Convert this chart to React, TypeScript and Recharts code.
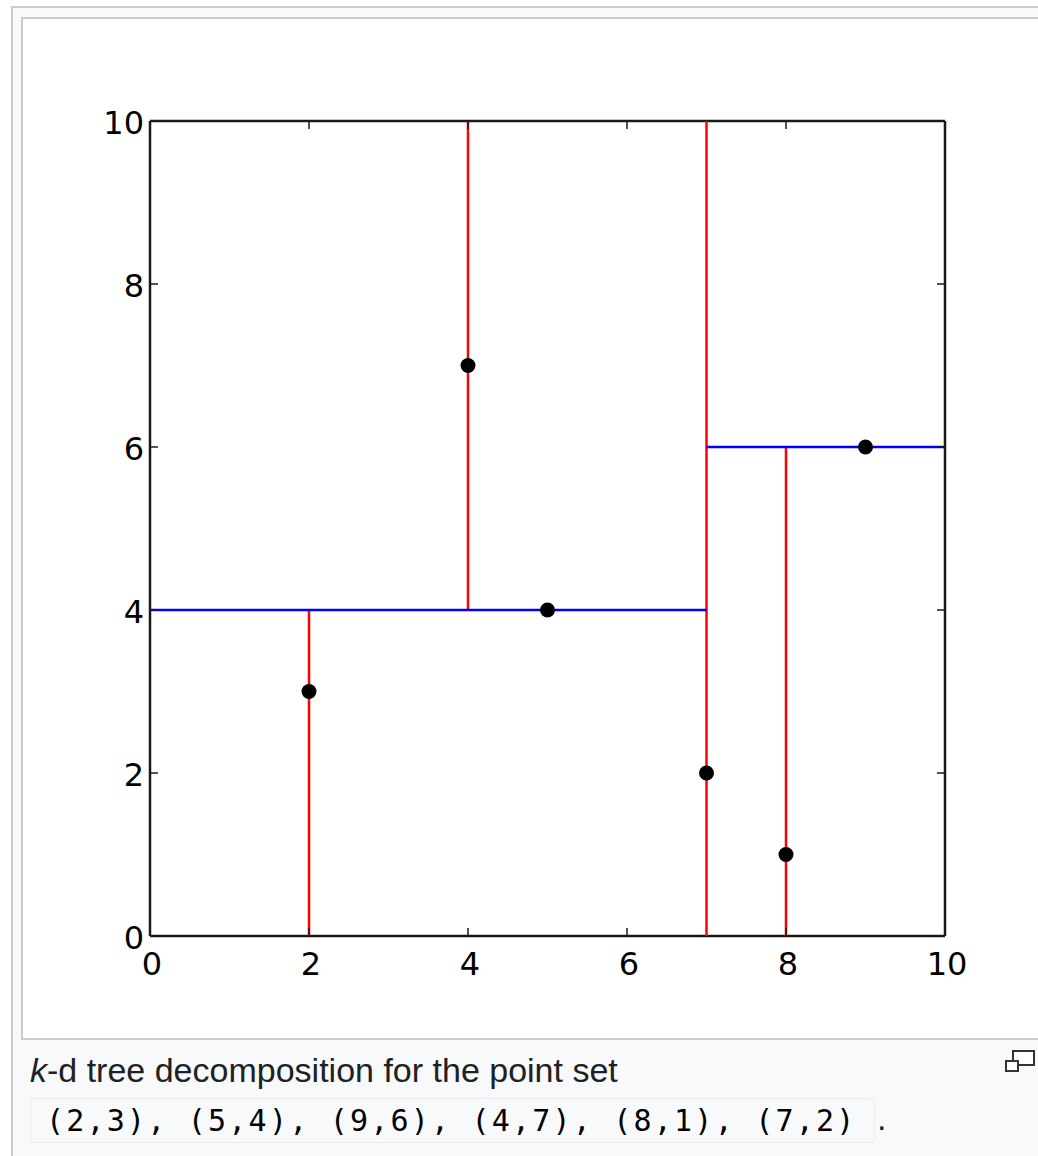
import React from "react";
import { ScatterChart, Scatter, XAxis, YAxis } from "recharts";

// ---- data ----
const pointX = [2, 5, 9, 4, 8, 7];
const pointY = [3, 4, 6, 7, 1, 2];
const tickValues = [0, 2, 4, 6, 8, 10];
// vertical splits (x, from y, to y) — red
const vSplitX = [2, 4, 7, 8];
const vSplitY0 = [0, 4, 0, 0];
const vSplitY1 = [4, 10, 10, 6];
// horizontal splits (y, from x, to x) — blue
const hSplitY = [4, 6];
const hSplitX0 = [0, 7];
const hSplitX1 = [7, 10];
const captionText = "k-d tree decomposition for the point set";
const codeText = "(2,3), (5,4), (9,6), (4,7), (8,1), (7,2)";

const points = pointX.map((x, i) => ({ x, y: pointY[i] }));
const vSegs = vSplitX.map((x, i) => [
  { x, y: vSplitY0[i] },
  { x, y: vSplitY1[i] },
]);
const hSegs = hSplitY.map((y, i) => [
  { x: hSplitX0[i], y },
  { x: hSplitX1[i], y },
]);

const AX = "#1a1a1a";
const TL = 8;
const FONT = "'DejaVu Sans', sans-serif";
const FS = 32;

const BottomTick = (p: any) => (
  <g>
    <line x1={p.x} x2={p.x} y1={p.y} y2={p.y - TL} stroke={AX} strokeWidth={1.5} />
    <text x={p.x + 2} y={p.y + 39} textAnchor="middle" fontSize={FS} fontFamily={FONT} fill="#000">
      {p.payload.value}
    </text>
  </g>
);
const LeftTick = (p: any) => (
  <g>
    <line x1={p.x} x2={p.x + TL} y1={p.y} y2={p.y} stroke={AX} strokeWidth={1.5} />
    <text x={p.x - 6} y={p.y + 13} textAnchor="end" fontSize={FS} fontFamily={FONT} fill="#000">
      {p.payload.value}
    </text>
  </g>
);
const TopTick = (p: any) => (
  <line x1={p.x} x2={p.x} y1={p.y} y2={p.y + TL} stroke={AX} strokeWidth={1.5} />
);
const RightTick = (p: any) => (
  <line x1={p.x} x2={p.x - TL} y1={p.y} y2={p.y} stroke={AX} strokeWidth={1.5} />
);
const NoShape = () => <g />;
const Dot = (p: any) => <circle cx={p.cx} cy={p.cy} r={7.5} fill="#000" />;

export default function App() {
  return (
    <div
      style={{
        position: "absolute",
        left: 0,
        top: 0,
        width: 1038,
        height: 1156,
        overflow: "hidden",
        background: "#fff",
      }}
    >
      {/* outer thumbnail frame */}
      <div
        style={{
          position: "absolute",
          left: 11,
          top: 6,
          width: 1100,
          height: 1200,
          background: "#f8f9fa",
          border: "2px solid #c8ccd1",
          boxSizing: "border-box",
        }}
      />
      {/* inner image frame */}
      <div
        style={{
          position: "absolute",
          left: 21,
          top: 17,
          width: 1100,
          height: 1023,
          background: "#fff",
          border: "2px solid #c8ccd1",
          boxSizing: "border-box",
        }}
      />
      <div style={{ position: "absolute", left: 0, top: 0 }}>
        <ScatterChart
          width={1038}
          height={1040}
          margin={{ top: 111, right: 83, bottom: 54, left: 90 }}
        >
          <XAxis
            xAxisId={0}
            dataKey="x"
            type="number"
            domain={[0, 10]}
            ticks={tickValues}
            allowDataOverflow
            height={50}
            tickSize={0}
            tickMargin={0}
            tickLine={false}
            axisLine={{ stroke: AX, strokeWidth: 2.5 }}
            tick={<BottomTick />}
            interval={0}
          />
          <XAxis
            xAxisId="top"
            orientation="top"
            dataKey="x"
            type="number"
            domain={[0, 10]}
            ticks={tickValues}
            allowDataOverflow
            height={10}
            tickSize={0}
            tickMargin={0}
            tickLine={false}
            axisLine={{ stroke: AX, strokeWidth: 2.5 }}
            tick={<TopTick />}
            interval={0}
          />
          <YAxis
            yAxisId={0}
            dataKey="y"
            type="number"
            domain={[0, 10]}
            ticks={tickValues}
            allowDataOverflow
            width={60}
            tickSize={0}
            tickMargin={0}
            tickLine={false}
            axisLine={{ stroke: AX, strokeWidth: 2.5 }}
            tick={<LeftTick />}
            interval={0}
          />
          <YAxis
            yAxisId="right"
            orientation="right"
            dataKey="y"
            type="number"
            domain={[0, 10]}
            ticks={tickValues}
            allowDataOverflow
            width={10}
            tickSize={0}
            tickMargin={0}
            tickLine={false}
            axisLine={{ stroke: AX, strokeWidth: 2.5 }}
            tick={<RightTick />}
            interval={0}
          />
          <Scatter
            xAxisId="top"
            yAxisId="right"
            data={points}
            shape={<NoShape />}
            isAnimationActive={false}
          />
          {vSegs.map((seg, i) => (
            <Scatter
              key={"v" + i}
              data={seg}
              line={{ stroke: "#ff0000", strokeWidth: 2.5 }}
              shape={<NoShape />}
              isAnimationActive={false}
            />
          ))}
          {hSegs.map((seg, i) => (
            <Scatter
              key={"h" + i}
              data={seg}
              line={{ stroke: "#0000ff", strokeWidth: 2.5 }}
              shape={<NoShape />}
              isAnimationActive={false}
            />
          ))}
          <Scatter data={points} fill="#000" shape={<Dot />} isAnimationActive={false} />
        </ScatterChart>
      </div>
      {/* caption */}
      <div
        style={{
          position: "absolute",
          left: 30,
          top: 1048,
          height: 44,
          lineHeight: "44px",
          fontFamily: "'Liberation Sans', Arial, sans-serif",
          fontSize: 34,
          color: "#202122",
          whiteSpace: "nowrap",
        }}
      >
        <i>{captionText.slice(0, 1)}</i>
        {captionText.slice(1)}
      </div>
      <div
        style={{
          position: "absolute",
          left: 30,
          top: 1098,
          width: 845,
          height: 45,
          boxSizing: "border-box",
          background: "#f8f9fa",
          border: "1px solid #eaecf0",
          borderRadius: 4,
          lineHeight: "43px",
          paddingLeft: 15,
          fontFamily: "'DejaVu Sans Mono', monospace",
          fontSize: 30,
          letterSpacing: "2.2px",
          color: "#000",
          whiteSpace: "nowrap",
        }}
      >
        {codeText}
      </div>
      <div
        style={{
          position: "absolute",
          left: 877,
          top: 1096,
          height: 45,
          lineHeight: "45px",
          fontFamily: "'Liberation Sans', Arial, sans-serif",
          fontSize: 34,
          color: "#202122",
        }}
      >
        .
      </div>
      {/* magnify icon */}
      <svg style={{ position: "absolute", left: 1003, top: 1048 }} width={34} height={28}>
        <rect x={10} y={3} width={21} height={14} fill="#fff" stroke="#333" strokeWidth={2} />
        <rect x={3} y={13} width={12} height={10} fill="#fff" stroke="#333" strokeWidth={2} />
      </svg>
    </div>
  );
}
